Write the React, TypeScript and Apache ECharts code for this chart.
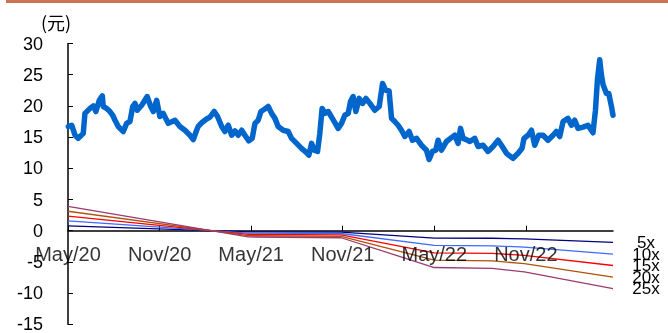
import React, { useEffect, useRef } from "react";
import * as echarts from "echarts";

// x positions are months elapsed since May 2020
const tickMonths = [0, 6, 12, 18, 24, 30];
const tickLabels = ["May/20", "Nov/20", "May/21", "Nov/21", "May/22", "Nov/22"];

const priceMonths = [
  0.02, 0.24, 0.46, 0.67, 1.0, 1.11, 1.44, 1.66, 1.83, 2.05, 2.25, 2.31, 2.53, 2.75, 2.93, 3.08,
  3.29, 3.62, 3.84, 4.06, 4.24, 4.39, 4.54, 4.83, 5.19, 5.42, 5.59, 5.81, 6.02, 6.24, 6.57, 7.01,
  7.33, 7.66, 7.99, 8.21, 8.43, 8.53, 8.76, 9.08, 9.3, 9.58, 9.8, 10.07, 10.28, 10.5, 10.72, 10.94,
  11.15, 11.38, 11.59, 11.85, 12.07, 12.25, 12.46, 12.64, 12.9, 13.12, 13.34, 13.56, 13.77, 14.1,
  14.43, 14.65, 14.98, 15.3, 15.63, 15.78, 15.96, 16.13, 16.35, 16.5, 16.65, 16.83, 17.05, 17.37,
  17.7, 17.92, 18.14, 18.36, 18.51, 18.68, 18.86, 19.08, 19.3, 19.52, 19.78, 20.1, 20.39, 20.61,
  20.82, 21.04, 21.2, 21.41, 21.63, 21.85, 22.07, 22.35, 22.57, 22.84, 23.16, 23.49, 23.66, 23.88,
  24.1, 24.25, 24.47, 24.8, 25.06, 25.34, 25.56, 25.72, 25.89, 26.1, 26.33, 26.65, 26.87, 27.2,
  27.52, 27.85, 28.18, 28.4, 28.73, 29.16, 29.49, 29.75, 29.88, 30.14, 30.37, 30.58, 30.84, 31.13,
  31.45, 31.78, 32.0, 32.22, 32.44, 32.76, 32.99, 33.2, 33.42, 33.75, 34.07, 34.4, 34.56, 34.69,
  34.84, 34.95, 35.06, 35.28, 35.43, 35.61, 35.71,
];
const priceValues = [
  16.7, 16.9, 15.3, 14.8, 15.6, 18.8, 19.6, 20.0, 19.1, 20.9, 21.6, 19.9, 19.6, 19.1, 18.5, 17.7,
  16.7, 15.9, 17.2, 17.5, 19.9, 20.4, 19.3, 20.1, 21.5, 19.9, 19.1, 20.9, 18.3, 18.8, 17.2, 17.7,
  16.7, 16.1, 15.3, 14.6, 16.1, 16.7, 17.3, 17.9, 18.2, 19.1, 18.3, 16.7, 15.9, 16.9, 15.3, 16.0,
  15.3, 16.1, 15.3, 14.4, 14.8, 17.2, 17.7, 19.1, 19.5, 19.9, 18.8, 18.0, 16.7, 16.1,
  15.9, 14.8, 14.0, 13.2, 12.5, 12.1, 14.0, 12.9, 12.7, 15.6, 19.6, 18.8, 19.1, 17.8,
  16.4, 17.2, 18.5, 18.8, 20.7, 21.5, 19.1, 21.2, 20.4, 21.2, 20.4, 19.3, 19.9, 23.6,
  22.5, 22.4, 18.0, 17.5, 16.9, 16.1, 15.1, 15.9, 14.5, 14.8, 13.7, 12.9, 11.4, 12.7,
  12.9, 14.5, 12.9, 14.3, 14.8, 15.3, 14.0, 16.4, 14.8, 14.6, 14.3, 14.8, 13.5, 13.7,
  12.7, 13.5, 14.5, 13.7, 12.4, 11.6, 12.4, 13.2, 14.8, 15.3, 16.1, 13.7, 15.3, 15.3,
  14.5, 15.3, 15.9, 15.1, 17.5, 18.0, 16.9, 17.7, 16.4, 16.6, 16.9, 15.7, 19.3, 24.2,
  27.4, 25.0, 23.4, 22.0, 22.0, 19.9, 18.5,
];

const bandMonths = [0, 11.8, 17.9, 24, 27.8, 29.9, 35.71];
const band5x = [0.78, -0.2, -0.23, -1.18, -1.21, -1.32, -1.87];
const band10x = [1.56, -0.4, -0.45, -2.36, -2.42, -2.64, -3.74];
const band15x = [2.34, -0.6, -0.68, -3.54, -3.63, -3.96, -5.58];
const band20x = [3.12, -0.8, -0.9, -4.72, -4.84, -5.28, -7.45];
const band25x = [3.9, -1.0, -1.13, -5.9, -6.05, -6.6, -9.3];

const bandNames = ["5x", "10x", "15x", "20x", "25x"];
const bandValues = [band5x, band10x, band15x, band20x, band25x];
const bandColors = ["#000080", "#3d6bff", "#ff0000", "#b0520a", "#9c3a72"];

const zip = (xs: number[], ys: number[]) => xs.map((x, i) => [x, ys[i]]);

export default function App() {
  const ref = useRef<HTMLDivElement>(null);
  useEffect(() => {
    if (!ref.current) return;
    const chart = echarts.init(ref.current, null, { renderer: "svg" });
    const font = "Arial, 'Liberation Sans', sans-serif";
    chart.setOption({
      animation: false,
      grid: { left: 68, right: 55, top: 43.5, bottom: 8.7, outerBoundsMode: "none", containLabel: false },
      graphic: [
        { type: "rect", shape: { x: 6, y: 0, width: 662, height: 3 }, style: { fill: "#cc7354" } },
        {
          type: "text",
          left: 41,
          top: 13,
          style: { text: "(元)", fontSize: 18, fill: "#000", fontFamily: "'Noto Sans CJK SC', sans-serif" },
        },
      ],
      xAxis: {
        type: "value",
        min: 0,
        max: 35.71,
        axisLine: { onZero: true, lineStyle: { color: "#000", width: 1.5 } },
        axisTick: { show: true, inside: true, length: 5, customValues: tickMonths, lineStyle: { color: "#000" } },
        axisLabel: { show: false },
        splitLine: { show: false },
      },
      yAxis: {
        type: "value",
        min: -15,
        max: 30,
        interval: 5,
        axisLine: { show: true, onZero: false, lineStyle: { color: "#000", width: 1.5 } },
        axisTick: { show: true, inside: true, length: 5, lineStyle: { color: "#000" } },
        axisLabel: { fontSize: 18, fontFamily: font, color: "#000", margin: 25 },
        splitLine: { show: false },
      },
      series: [
        ...bandNames.map((name, i) => ({
          name,
          type: "line",
          data: zip(bandMonths, bandValues[i]),
          showSymbol: false,
          lineStyle: { color: bandColors[i], width: 1.3 },
          z: 2,
          endLabel: {
            show: true,
            formatter: name,
            color: "#000",
            fontSize: 17,
            fontFamily: font,
            distance: 33,
            align: "center",
          },
        })),
        {
          name: "price",
          type: "line",
          data: zip(priceMonths, priceValues),
          showSymbol: false,
          lineStyle: { color: "#0066cc", width: 5.5, join: "round", cap: "round" },
          z: 3,
        },
        {
          name: "xLabels",
          type: "scatter",
          data: tickMonths.map((m, i) => ({ value: [m, 0], name: tickLabels[i] })),
          symbolSize: 1,
          itemStyle: { color: "transparent" },
          silent: true,
          z: 4,
          label: {
            show: true,
            position: "bottom",
            distance: 13,
            formatter: (p: any) => p.name,
            fontSize: 20,
            fontFamily: font,
            color: "#000",
          },
        },
      ],
    });
    return () => chart.dispose();
  }, []);
  return <div ref={ref} style={{ position: "fixed", left: 0, top: 0, width: 668, height: 333 }} />;
}
